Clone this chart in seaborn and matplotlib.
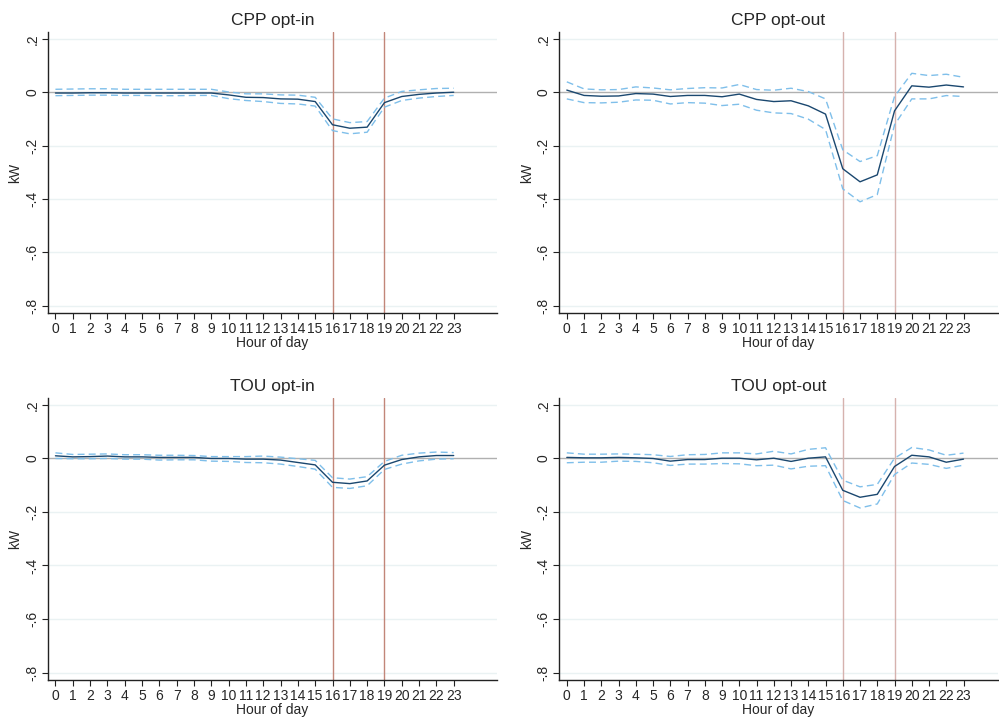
import numpy as np
import pandas as pd
import matplotlib
matplotlib.use("Agg")
import matplotlib.pyplot as plt
import seaborn as sns

hours = list(range(24))

cpp_in_est = [-0.003, -0.003, -0.002, -0.002, -0.003, -0.003, -0.003, -0.003, -0.003, -0.003,
              -0.01, -0.019, -0.02, -0.025, -0.026, -0.035, -0.122, -0.135, -0.131, -0.039,
              -0.016, -0.008, -0.003, 0.0]
cpp_in_hi = [0.011, 0.012, 0.013, 0.013, 0.011, 0.011, 0.011, 0.011, 0.011, 0.011,
             0.001, -0.006, -0.006, -0.01, -0.011, -0.019, -0.1, -0.114, -0.11, -0.022,
             0.003, 0.009, 0.014, 0.015]
cpp_in_lo = [-0.013, -0.012, -0.011, -0.011, -0.012, -0.012, -0.013, -0.013, -0.012, -0.012,
             -0.024, -0.031, -0.035, -0.042, -0.044, -0.052, -0.144, -0.156, -0.15, -0.056,
             -0.031, -0.022, -0.016, -0.012]

cpp_out_est = [0.008, -0.012, -0.015, -0.014, -0.005, -0.007, -0.016, -0.012, -0.012, -0.017,
               -0.007, -0.027, -0.035, -0.032, -0.051, -0.082, -0.287, -0.336, -0.31, -0.07,
               0.024, 0.019, 0.027, 0.02]
cpp_out_hi = [0.039, 0.0125, 0.009, 0.01, 0.02, 0.016, 0.009, 0.014, 0.017, 0.016,
              0.029, 0.01, 0.0075, 0.015, 0.0025, -0.025, -0.216, -0.26, -0.238, -0.016,
              0.071, 0.0625, 0.0675, 0.056]
cpp_out_lo = [-0.025, -0.039, -0.04, -0.0375, -0.029, -0.03, -0.044, -0.039, -0.041, -0.05,
              -0.045, -0.0675, -0.0775, -0.08, -0.101, -0.14, -0.3625, -0.411, -0.384, -0.1225,
              -0.025, -0.025, -0.0125, -0.016]

tou_in_est = [0.01, 0.006, 0.007, 0.009, 0.006, 0.006, 0.004, 0.004, 0.004, 0.0,
              0.0, -0.0025, -0.0025, -0.006, -0.015, -0.024, -0.089, -0.094, -0.084, -0.025,
              -0.004, 0.006, 0.011, 0.011]
tou_in_hi = [0.021, 0.015, 0.016, 0.017, 0.014, 0.014, 0.012, 0.012, 0.011, 0.007,
             0.007, 0.007, 0.009, 0.005, -0.001, -0.007, -0.072, -0.077, -0.068, -0.011,
             0.012, 0.02, 0.024, 0.022]
tou_in_lo = [0.0, -0.001, -0.001, 0.0, -0.0025, -0.0025, -0.006, -0.005, -0.005, -0.01,
             -0.011, -0.015, -0.016, -0.021, -0.03, -0.04, -0.108, -0.112, -0.102, -0.041,
             -0.021, -0.009, -0.0025, -0.001]

tou_out_est = [0.004, 0.0025, 0.0025, 0.004, 0.0025, 0.0, -0.01, -0.004, -0.004, 0.001,
               0.001, -0.005, 0.001, -0.011, 0.001, 0.006, -0.119, -0.145, -0.134, -0.03,
               0.012, 0.006, -0.014, -0.0025]
tou_out_hi = [0.021, 0.016, 0.016, 0.017, 0.016, 0.014, 0.0075, 0.014, 0.015, 0.021,
              0.021, 0.017, 0.027, 0.017, 0.034, 0.04, -0.081, -0.106, -0.097, 0.001,
              0.041, 0.032, 0.012, 0.02]
tou_out_lo = [-0.016, -0.014, -0.014, -0.01, -0.011, -0.016, -0.026, -0.021, -0.021, -0.019,
              -0.02, -0.027, -0.025, -0.039, -0.029, -0.027, -0.157, -0.185, -0.17, -0.06,
              -0.017, -0.022, -0.037, -0.025]

titles = ["CPP opt-in", "CPP opt-out", "TOU opt-in", "TOU opt-out"]
series = [(cpp_in_est, cpp_in_lo, cpp_in_hi),
          (cpp_out_est, cpp_out_lo, cpp_out_hi),
          (tou_in_est, tou_in_lo, tou_in_hi),
          (tou_out_est, tou_out_lo, tou_out_hi)]
peak_hours = [16, 19]
yticks = [0.2, 0, -0.2, -0.4, -0.6, -0.8]
ytick_labels = [".2", "0", "-.2", "-.4", "-.6", "-.8"]

sns.set_style("white")
plt.rcParams["font.family"] = ["Liberation Sans", "DejaVu Sans"]

fig = plt.figure(figsize=(9.99, 7.17), dpi=100)
# axes boxes in figure fractions [left, bottom, width, height]
boxes = [[0.0477, 0.5635, 0.4498, 0.3919],
         [0.5596, 0.5635, 0.4394, 0.3919],
         [0.0477, 0.0516, 0.4498, 0.3933],
         [0.5596, 0.0516, 0.4394, 0.3933]]
xmax = [25.5, 25.0, 25.5, 25.0]
vcolors = ["#c28679", "#d6b2ae", "#c28679", "#d6b2ae"]

for i, (title, (est, lo, hi)) in enumerate(zip(titles, series)):
    ax = fig.add_axes(boxes[i])
    df = pd.DataFrame({"hour": hours, "est": est, "lo": lo, "hi": hi})
    for yv in [0.2, -0.2, -0.4, -0.6, -0.8]:
        ax.axhline(yv, color="#eaf2f3", lw=1.0, zorder=0)
    ax.axhline(0, color="#b0b0b0", lw=1.0, zorder=1)
    for h in peak_hours:
        ax.axvline(h, color=vcolors[i], lw=1.0, zorder=1)
    sns.lineplot(data=df, x="hour", y="hi", ax=ax, color="#7fbfea", lw=1.0,
                 linestyle=(0, (5, 3)), zorder=3)
    sns.lineplot(data=df, x="hour", y="lo", ax=ax, color="#7fbfea", lw=1.0,
                 linestyle=(0, (5, 3)), zorder=3)
    sns.lineplot(data=df, x="hour", y="est", ax=ax, color="#1a476f", lw=1.0, zorder=4)
    ax.set_xlim(-0.45, xmax[i])
    ax.set_ylim(-0.828, 0.226)
    ax.set_xticks(hours)
    ax.set_xticklabels([str(h) for h in hours], fontsize=10)
    ax.set_yticks(yticks)
    ax.set_yticklabels(ytick_labels, fontsize=10, rotation=90, va="center")
    ax.tick_params(axis="both", direction="out", length=4, width=0.8, color="#222222", pad=2,
                   bottom=True, left=True)
    ax.tick_params(axis="x", pad=2.5)
    for s in ["top", "right"]:
        ax.spines[s].set_visible(False)
    for s in ["left", "bottom"]:
        ax.spines[s].set_color("#222222")
        ax.spines[s].set_linewidth(1.0)
    ax.set_xlabel("Hour of day", fontsize=10, labelpad=0)
    ax.set_ylabel("kW", fontsize=10, labelpad=2)
    ax.set_title(title, fontsize=12.5, pad=5)

fig.savefig("out.png", dpi=100)
